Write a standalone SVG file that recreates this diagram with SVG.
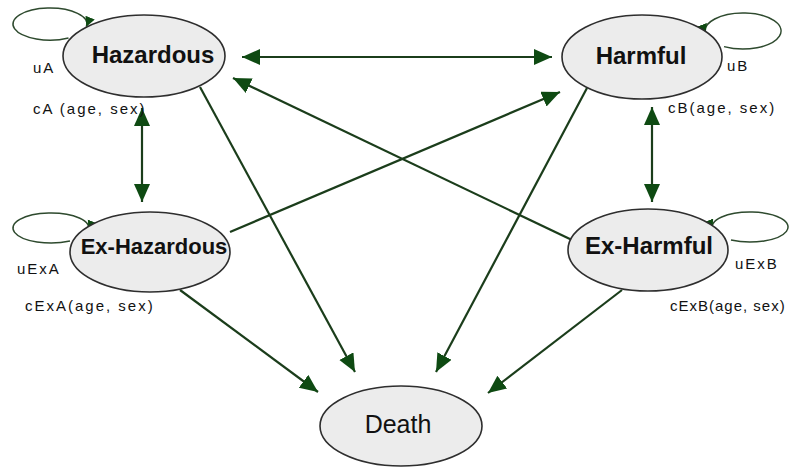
<svg xmlns="http://www.w3.org/2000/svg" width="792" height="468" viewBox="0 0 792 468">
<defs>
<marker id="ah" markerUnits="userSpaceOnUse" markerWidth="20" markerHeight="18" refX="18" refY="8" orient="auto-start-reverse">
<path d="M0,0 L18,8 L0,16 Z" fill="#0e4a12"/>
</marker>
<marker id="ahs" markerUnits="userSpaceOnUse" markerWidth="12" markerHeight="12" refX="10" refY="5" orient="auto">
<path d="M0,0 L10,5 L0,10 Z" fill="#0e4a12"/>
</marker>
</defs>
<style>
.node ellipse{fill:#ececec;stroke:#2e2e2e;stroke-width:1.6}
.lbl{font-family:"Liberation Sans",Arial,sans-serif;fill:#111;text-anchor:middle}
.b{font-weight:bold}
.small{font-family:"Liberation Sans",Arial,sans-serif;font-size:15px;letter-spacing:2px;fill:#111}
.e{fill:none;stroke:#1b3d1b;stroke-width:2.2}
.loop{fill:none;stroke:#2e4a2e;stroke-width:1.5}
</style>
<rect width="792" height="468" fill="#ffffff"/>
<g id="connectors">
<line class="e" x1="242" y1="57" x2="552" y2="57" marker-start="url(#ah)" marker-end="url(#ah)"/>
<line class="e" x1="142" y1="108" x2="142" y2="202" marker-start="url(#ah)" marker-end="url(#ah)"/>
<line class="e" x1="652" y1="107" x2="652" y2="202" marker-start="url(#ah)" marker-end="url(#ah)"/>
<line class="e" x1="230" y1="232" x2="560" y2="92" marker-end="url(#ah)"/>
<line class="e" x1="572" y1="240" x2="233" y2="78" marker-end="url(#ah)"/>
<line class="e" x1="200" y1="87" x2="355" y2="372" marker-end="url(#ah)"/>
<line class="e" x1="587" y1="88" x2="436" y2="372" marker-end="url(#ah)"/>
<line class="e" x1="180" y1="290" x2="318" y2="392" marker-end="url(#ah)"/>
<line class="e" x1="622" y1="290" x2="488" y2="393" marker-end="url(#ah)"/>
<path class="loop" d="M68.5,37.9 A37,16 0 1 1 86.4,26.8" marker-end="url(#ahs)"/>
<path class="loop" d="M724,46.6 A38,18 0 1 0 705.6,34.1" marker-end="url(#ahs)"/>
<path class="loop" d="M70,241 A38,15 0 1 1 88.4,230.6" marker-end="url(#ahs)"/>
<path class="loop" d="M731,240 A38,15 0 1 0 712.6,229.6" marker-end="url(#ahs)"/>
</g>
<g id="hazardous" class="node">
<ellipse cx="144" cy="56" rx="81" ry="41"/>
<text class="lbl b" x="153" y="63" font-size="24">Hazardous</text>
</g>
<g id="harmful" class="node">
<ellipse cx="642" cy="57" rx="80" ry="42"/>
<text class="lbl b" x="641" y="64" font-size="24">Harmful</text>
</g>
<g id="ex-hazardous" class="node">
<ellipse cx="150" cy="252" rx="80" ry="40"/>
<text class="lbl b" x="154" y="254" font-size="22">Ex-Hazardous</text>
</g>
<g id="ex-harmful" class="node">
<ellipse cx="648" cy="250" rx="80" ry="41"/>
<text class="lbl b" x="649" y="254" font-size="24">Ex-Harmful</text>
</g>
<g id="death" class="node">
<ellipse cx="401" cy="426" rx="81" ry="40"/>
<text class="lbl" x="398" y="433" font-size="25">Death</text>
</g>
<g id="labels">
<text class="small" x="33" y="73">uA</text>
<text class="small" x="33" y="114">cA (age, sex)</text>
<text class="small" x="727" y="71">uB</text>
<text class="small" x="668" y="113">cB(age, sex)</text>
<text class="small" x="17" y="274">uExA</text>
<text class="small" x="25" y="311">cExA(age, sex)</text>
<text class="small" x="735" y="269">uExB</text>
<text class="small" x="670" y="311" style="letter-spacing:1px">cExB(age, sex)</text>
</g>
</svg>
